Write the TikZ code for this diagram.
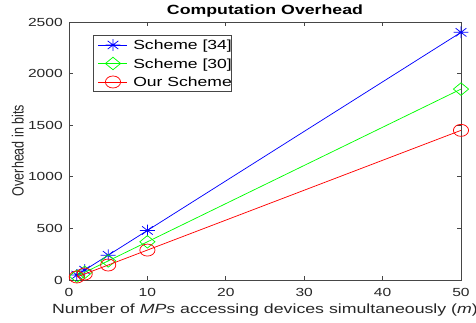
\documentclass[tikz,border=0pt]{standalone}
\usepackage{fontspec}
\setmainfont{Liberation Sans}[FakeStretch=1.33]
\newfontfamily\ylabelfont{Liberation Sans}
\usetikzlibrary{positioning,calc}
\definecolor{axisgray}{RGB}{70,70,70}
\definecolor{textgray}{RGB}{38,38,38}
\definecolor{mblue}{RGB}{0,0,255}
\definecolor{mgreen}{RGB}{0,255,0}
\definecolor{mred}{RGB}{255,0,0}
\tikzset{
axisline/.style = {draw=axisgray, line width=0.5pt},
ticklbl/.style = {font=\fontsize{8.8}{10}\selectfont, text=textgray, inner sep=0pt},
legtxt/.style = {font=\fontsize{9.9}{11}\selectfont, text=black, inner sep=0pt, anchor=base west},
dataline/.style = {line width=0.55pt},
pics/starmk/.style = {code={\draw[mblue, line width=0.55pt] (-5.6pt,0pt) -- (5.6pt,0pt) (0pt,-4.4pt) -- (0pt,4.4pt) (-4pt,-3.1pt) -- (4pt,3.1pt) (-4pt,3.1pt) -- (4pt,-3.1pt);}},
pics/diamk/.style = {code={\draw[mgreen, line width=0.55pt] (-5.7pt,0pt) -- (0pt,4.7pt) -- (5.7pt,0pt) -- (0pt,-4.7pt) -- cycle;}},
pics/circmk/.style = {code={\draw[mred, line width=0.55pt] (0pt,0pt) ellipse [x radius=5.7pt, y radius=4.5pt];}}
}
\begin{document}
\begin{tikzpicture}[x=0.75pt, y=0.75pt]
  \useasboundingbox (0,0) rectangle (476,323);

  % axes box
  \draw [axisline] (69,43) rectangle (461,301);

  \begin{scope}[shift={(69,43)}, x=5.88pt, y=0.0774pt]
    % ticks and tick labels
    \foreach \m in {0,10,...,50} {
      \draw [axisline] (\m,0) -- ++(0,3pt);
      \draw [axisline] (\m,2500) -- ++(0,-3pt);
      \node [ticklbl, anchor=base] (xt\m) at (\m,0) [yshift=-12.75pt] {\m};
    }
    \foreach \v in {0,500,...,2500} {
      \draw [axisline] (0,\v) -- ++(3pt,0);
      \draw [axisline] (50,\v) -- ++(-3pt,0);
      \node [ticklbl, anchor=east] (yt\v) at (0,\v) [xshift=-4.5pt] {\v};
    }

    % data
    \draw [dataline, mblue] plot coordinates {(1,48) (2,96) (5,240) (10,480) (50,2400)};
    \foreach \m/\v in {1/48,2/96,5/240,10/480,50/2400}
      \pic at (\m,\v) {starmk};
    \draw [dataline, mgreen] plot coordinates {(1,37) (2,74) (5,185) (10,370) (50,1850)};
    \foreach \m/\v in {1/37,2/74,5/185,10/370,50/1850}
      \pic at (\m,\v) {diamk};
    \draw [dataline, mred] plot coordinates {(1,29) (2,58) (5,145) (10,290) (50,1450)};
    \foreach \m/\v in {1/29,2/58,5/145,10/290,50/1450}
      \pic at (\m,\v) {circmk};
  \end{scope}

  % labels
  \node [font=\bfseries\fontsize{10}{12}\selectfont, anchor=base] (title) at (265,308) {Computation Overhead};
  \node [font=\fontsize{10}{12}\selectfont, text=textgray, anchor=base] (xlabel) at (265,9) {Number of \textit{MPs} accessing devices simultaneously (\textit{m})};
  \node [font=\ylabelfont\fontsize{9.4}{12}\selectfont, text=textgray, rotate=90, anchor=base, inner sep=0pt] (ylabel) at (23.5,172.5) {\scalebox{1}[1.3]{Overhead in bits}};

  % legend
  \draw [axisline, fill=white] (93,232) rectangle (231,288);
  \coordinate (l34a) at (98,278);   \coordinate (l34b) at (127,278);
  \coordinate (l30a) at (98,259.5); \coordinate (l30b) at (127,259.5);
  \coordinate (lowa) at (98,241);   \coordinate (lowb) at (127,241);
  \draw [dataline, mblue] (l34a) -- (l34b);
  \pic at (113,278) {starmk};
  \draw [dataline, mgreen] (l30a) -- (l30b);
  \pic at (113,259.5) {diamk};
  \draw [dataline, mred] (lowa) -- (lowb);
  \pic at (113,241) {circmk};
  \node [legtxt] (s34) at (133,273) {Scheme [34]};
  \node [legtxt] (s30) at (133,254.5) {Scheme [30]};
  \node [legtxt] (sow) at (133,236) {Our Scheme};
\end{tikzpicture}
\end{document}
